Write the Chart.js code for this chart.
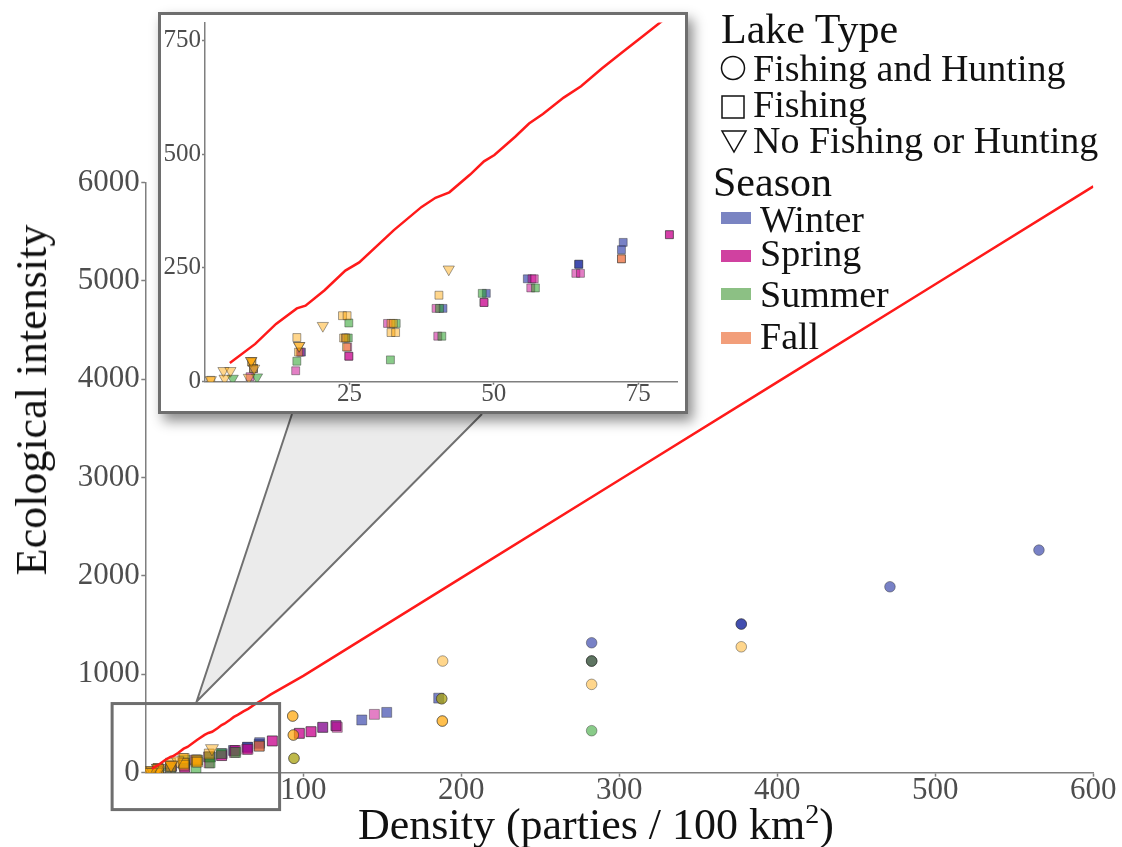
<!DOCTYPE html>
<html>
<head>
<meta charset="utf-8">
<script src="https://cdn.jsdelivr.net/npm/chart.js@4.4.1/dist/chart.umd.min.js"></script>
<style>
  html, body { margin: 0; padding: 0; background: #fff; }
  body { width: 1122px; height: 847px; position: relative; overflow: hidden;
         font-family: "Liberation Serif", "Times New Roman", serif; color: #111; }
  #main { position: absolute; left: 0; top: 0; }
  #insetBox { position: absolute; left: 158px; top: 12px; width: 524px; height: 396px;
              border: 3px solid #6e6e6e; background: #fff;
              box-shadow: 5px 7px 12px rgba(0,0,0,0.45); }
  #inset { position: absolute; left: 0; top: 0; }
  .txt { position: absolute; white-space: nowrap; line-height: 1; }
  .sw { position: absolute; left: 721px; width: 30px; height: 12px; }
  svg { position: absolute; overflow: visible; }
</style>
</head>
<body>
<canvas id="main" width="1122" height="847"></canvas>

<div id="insetBox"><canvas id="inset" width="524" height="396"></canvas></div>

<!-- axis titles -->
<div class="txt" style="left:32px; top:400px; font-size:44px; transform:translate(-50%,-50%) rotate(-90deg);">Ecological intensity</div>
<div class="txt" style="left:596px; top:803px; font-size:44px; transform:translateX(-50%);">Density (parties / 100 km<sup style="font-size:28px; line-height:0;">2</sup>)</div>

<!-- legend -->
<div class="txt" style="left:721px; top:8px; font-size:42px;">Lake Type</div>
<svg style="left:720px; top:55px;" width="26" height="26"><circle cx="13" cy="13" r="11.5" fill="none" stroke="#111" stroke-width="1.5"/></svg>
<div class="txt" style="left:753px; top:49px; font-size:38px;">Fishing and Hunting</div>
<svg style="left:721px; top:95px;" width="24" height="24"><rect x="1" y="1" width="22" height="22" fill="none" stroke="#111" stroke-width="1.5"/></svg>
<div class="txt" style="left:753px; top:85px; font-size:38px;">Fishing</div>
<svg style="left:721px; top:130px;" width="26" height="24"><polygon points="1,1 25,1 13,22" fill="none" stroke="#111" stroke-width="1.5"/></svg>
<div class="txt" style="left:753px; top:121px; font-size:38px;">No Fishing or Hunting</div>

<div class="txt" style="left:713px; top:161px; font-size:42px;">Season</div>
<div class="sw" style="top:212px; background:#7a84c2;"></div>
<div class="txt" style="left:760px; top:200px; font-size:38px;">Winter</div>
<div class="sw" style="top:250px; background:#d041a0;"></div>
<div class="txt" style="left:760px; top:234px; font-size:38px;">Spring</div>
<div class="sw" style="top:288px; background:#8cc084;"></div>
<div class="txt" style="left:760px; top:275px; font-size:38px;">Summer</div>
<div class="sw" style="top:332px; background:#f29e7a;"></div>
<div class="txt" style="left:760px; top:317px; font-size:38px;">Fall</div>

<script>
// -------------------------------------------------------
// data
// each point: [density, ecological intensity, lake type]
// lake type: 'fh' Fishing and Hunting, 'f' Fishing, 'n' No Fishing or Hunting
// -------------------------------------------------------
const winterPts = [
  [565.6, 2263, 'fh'], [471.3, 1890, 'fh'], [377.2, 1511, 'fh'], [377.2, 1511, 'fh'],
  [282.5, 1321, 'fh'], [282.5, 1135, 'fh'],
  [185.7, 758, 'f'], [152.8, 613, 'f'], [137.0, 536, 'f'], [120.7, 478, 'f'], [112.3, 461, 'f'],
  [72.4, 306, 'f'], [72.1, 290, 'f'], [64.7, 258, 'f'], [64.7, 258, 'f'], [55.8, 226, 'f'],
  [48.7, 194, 'f'], [41.2, 161, 'f'], [24.3, 96, 'f'], [16.7, 65, 'f'], [8.4, 29, 'f']
];
const springPts = [
  [282.5, 1135, 'fh'],
  [145.0, 593, 'f'], [121.5, 461, 'f'], [120.7, 478, 'f'], [112.3, 461, 'f'], [104.9, 417, 'f'],
  [104.9, 417, 'f'], [97.5, 400, 'f'], [97.5, 400, 'f'],
  [80.4, 323, 'f'], [80.4, 323, 'f'], [72.1, 270, 'f'], [64.2, 238, 'f'], [65.0, 238, 'f'],
  [56.6, 226, 'f'], [57.0, 226, 'f'], [56.4, 206, 'f'], [48.3, 174, 'f'], [48.3, 174, 'f'],
  [40.0, 161, 'f'], [40.3, 100, 'f'], [31.6, 128, 'f'], [24.7, 76, 'f'], [24.9, 56, 'f'],
  [24.9, 56, 'f'], [16.5, 65, 'f'], [15.7, 24, 'f'], [7.8, 11, 'f']
];
const summerPts = [
  [282.5, 427, 'fh'], [282.5, 1135, 'fh'], [187.6, 752, 'fh'], [94.1, 146, 'fh'],
  [57.2, 206, 'f'], [48.0, 194, 'f'], [40.6, 161, 'f'], [41.0, 100, 'f'], [33.1, 128, 'f'],
  [32.1, 48, 'f'], [24.9, 129, 'f'], [24.8, 96, 'f'], [15.9, 45, 'f'],
  [9.0, 10, 'n'], [4.8, 7, 'n']
];
const fallPts = [
  [377.2, 1280, 'fh'], [282.5, 898, 'fh'], [188.2, 1135, 'fh'],
  [187.6, 752, 'fh'], [188.0, 525, 'fh'], [188.0, 525, 'fh'],
  [93.3, 576, 'fh'], [93.3, 576, 'fh'], [93.7, 383, 'fh'], [93.7, 383, 'fh'], [94.1, 146, 'fh'],
  [72.1, 270, 'f'], [40.5, 190, 'f'], [32.2, 128, 'f'], [32.6, 128, 'f'], [32.2, 108, 'f'],
  [33.0, 108, 'f'], [23.8, 145, 'f'], [24.6, 145, 'f'], [24.0, 96, 'f'], [24.4, 96, 'f'],
  [24.5, 76, 'f'], [15.9, 97, 'f'], [16.2, 65, 'f'], [8.1, 43, 'f'], [8.1, 43, 'f'],
  [8.4, 29, 'f'], [1.0, 3, 'f'],
  [42.2, 247, 'n'], [20.4, 123, 'n'], [16.3, 79, 'n'], [16.3, 79, 'n'], [8.0, 46, 'n'],
  [8.0, 46, 'n'], [8.5, 29, 'n'], [7.6, 9, 'n'], [3.2, 24, 'n'], [4.4, 24, 'n'],
  [3.4, 7, 'n'], [1.0, 4, 'n']
];

// red line
const lineX = [4.3, 8.7, 12.3, 15.9, 17.4, 20.7, 24.3, 26.7, 32.7, 37.5, 39.9, 42.3, 45.9,
               48.3, 50.1, 53.7, 56.1, 58.5, 62.1, 65.1, 68.7, 72.3, 75.9, 79.2,
               100, 200, 300, 400, 500, 600];
const lineY = [41, 83, 127, 161, 167, 201, 244, 262, 333, 384, 404, 416, 455,
               484, 498, 538, 567, 588, 624, 649, 688, 724, 760, 793,
               985, 1980, 2975, 3970, 4965, 5960];

// ticks
const mainXTicks = [100, 200, 300, 400, 500, 600];
const mainYTicks = [0, 1000, 2000, 3000, 4000, 5000, 6000];
const insetXTicks = [25, 50, 75];
const insetYTicks = [0, 250, 500, 750];

// -------------------------------------------------------
// styles
// -------------------------------------------------------
const FONT = "'Liberation Serif', 'Times New Roman', serif";
const AXIS = '#7f7f7f';
const seasonFill = {
  winter: 'rgba(30,45,160,0.6)',
  spring: 'rgba(200,0,140,0.5)',
  summer: 'rgba(40,160,40,0.55)',
  fall:   'rgba(255,165,0,0.45)'
};
const shapeOf = { fh: 'circle', f: 'rect', n: 'triangle' };

function seasonSet(label, pts, color, sizes, order) {
  return {
    type: 'scatter',
    label,
    order,
    data: pts.map(p => ({ x: p[0], y: p[1] })),
    pointStyle: pts.map(p => shapeOf[p[2]]),
    pointRotation: pts.map(p => (p[2] === 'n' ? 180 : 0)),
    pointRadius: pts.map(p => sizes[p[2]]),
    pointBackgroundColor: color,
    pointBorderColor: 'rgba(50,50,50,0.45)',
    pointBorderWidth: 1
  };
}

function buildDatasets(sizes) {
  return [
    {
      type: 'line',
      label: 'line',
      order: -1,
      data: lineX.map((v, i) => ({ x: v, y: lineY[i] })),
      borderColor: '#ff1a1a',
      borderWidth: 2.5,
      pointRadius: 0,
      fill: false,
      tension: 0
    },
    seasonSet('Winter', winterPts, seasonFill.winter, sizes, 3),
    seasonSet('Spring', springPts, seasonFill.spring, sizes, 2),
    seasonSet('Summer', summerPts, seasonFill.summer, sizes, 1),
    seasonSet('Fall', fallPts, seasonFill.fall, sizes, 0)
  ];
}

function axis(min, max, ticks, fontSize, lineH, tickLen, pad, fit) {
  return {
    type: 'linear',
    min, max,
    afterBuildTicks: s => { s.ticks = ticks.map(v => ({ value: v })); },
    afterFit: fit,
    grid: { drawOnChartArea: false, color: AXIS, tickLength: tickLen, tickWidth: 1.5 },
    border: { color: AXIS, width: 1.5 },
    ticks: {
      color: '#4d4d4d', padding: pad, autoSkip: false, maxRotation: 0,
      callback: v => String(v),
      font: { family: FONT, size: fontSize, lineHeight: lineH }
    }
  };
}

// zoom box on the main chart and the wedge up to the inset
const zoomBox = { xMin: -21, xMax: 85, yMin: -375, yMax: 703, apexX: 32.5 };
const insetBase = { y: 414, left: 292, right: 482 };

const zoomGuide = {
  id: 'zoomGuide',
  afterDraw(chart) {
    const { ctx } = chart;
    const { x, y } = chart.scales;
    const x0 = x.getPixelForValue(zoomBox.xMin), x1 = x.getPixelForValue(zoomBox.xMax);
    const y0 = y.getPixelForValue(zoomBox.yMax), y1 = y.getPixelForValue(zoomBox.yMin);
    const ax = x.getPixelForValue(zoomBox.apexX);
    ctx.save();
    ctx.beginPath();
    ctx.moveTo(ax, y0 - 2);
    ctx.lineTo(insetBase.left, insetBase.y);
    ctx.lineTo(insetBase.right, insetBase.y);
    ctx.closePath();
    ctx.fillStyle = '#ebebeb';
    ctx.fill();
    ctx.beginPath();
    ctx.moveTo(insetBase.left, insetBase.y);
    ctx.lineTo(ax, y0 - 2);
    ctx.lineTo(insetBase.right, insetBase.y);
    ctx.strokeStyle = '#707070';
    ctx.lineWidth = 2;
    ctx.stroke();
    ctx.lineWidth = 3;
    ctx.strokeStyle = '#6e6e6e';
    ctx.strokeRect(x0, y0, x1 - x0, y1 - y0);
    ctx.restore();
  }
};

const common = {
  responsive: false,
  animation: false,
  events: [],
  plugins: { legend: { display: false }, tooltip: { enabled: false } }
};

// -------------------------------------------------------
// main chart
// -------------------------------------------------------
new Chart(document.getElementById('main'), {
  type: 'scatter',
  data: { datasets: buildDatasets({ fh: 5.3, f: 7, n: 7.5 }) },
  plugins: [zoomGuide],
  options: {
    ...common,
    layout: { padding: { left: 0, top: 182.5, right: 28.7, bottom: 0 } },
    scales: {
      x: axis(0, 600, mainXTicks, 31, 0.9, 4, 0, s => { s.height = 74.3; }),
      y: axis(0, 6000, mainYTicks, 31, 1, 4, 1.5, s => { s.width = 145.3; s.paddingTop = 0; s.paddingBottom = 0; })
    }
  }
});

// -------------------------------------------------------
// inset (zoom on the low-density lakes)
// -------------------------------------------------------
new Chart(document.getElementById('inset'), {
  type: 'scatter',
  data: { datasets: buildDatasets({ fh: 5, f: 5.6, n: 6.5 }) },
  options: {
    ...common,
    layout: { padding: 0 },
    scales: {
      x: axis(0, 81.8, insetXTicks, 25, 0.8, 3, 0, s => { s.height = 29.3; s.paddingLeft = 0; s.paddingRight = 0; }),
      y: axis(0, 789, insetYTicks, 25, 1, 3, 1, s => { s.width = 44; s.paddingTop = 0; s.paddingBottom = 0; })
    }
  }
});
</script>
</body>
</html>
